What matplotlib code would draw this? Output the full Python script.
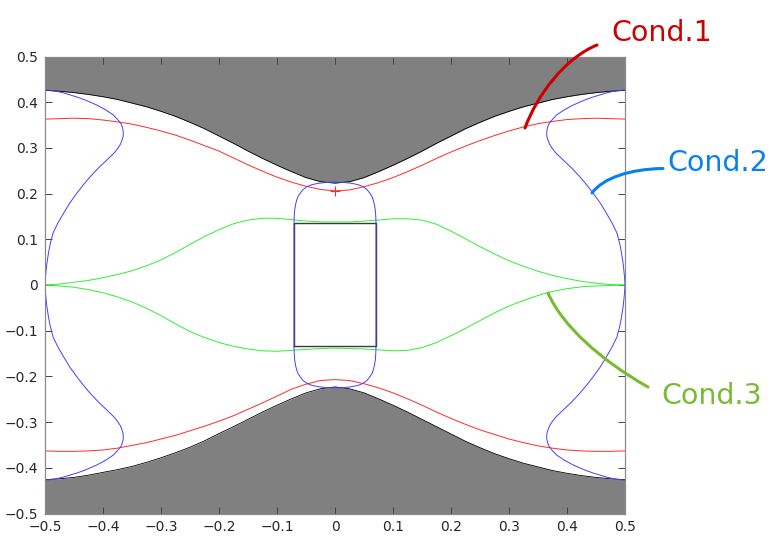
import numpy as np
import matplotlib
matplotlib.use("Agg")
import matplotlib.pyplot as plt
from matplotlib.path import Path
from matplotlib.patches import PathPatch

# ---------------- data ----------------
curve_x = [-0.5, -0.475, -0.45, -0.425, -0.4, -0.375, -0.35, -0.325, -0.3, -0.275, -0.25, -0.225,
           -0.2, -0.175, -0.15, -0.125, -0.1, -0.075, -0.05, -0.025, 0.0,
           0.025, 0.05, 0.075, 0.1, 0.125, 0.15, 0.175, 0.2, 0.225, 0.25, 0.275,
           0.3, 0.325, 0.35, 0.375, 0.4, 0.425, 0.45, 0.475, 0.5]

# boundary of the grey region
gray_upper = [0.426, 0.424, 0.421, 0.417, 0.412, 0.406, 0.398, 0.390, 0.380, 0.369, 0.356, 0.342,
              0.326, 0.310, 0.293, 0.277, 0.262, 0.248, 0.235, 0.226, 0.223,
              0.226, 0.235, 0.248, 0.262, 0.277, 0.293, 0.310, 0.326, 0.342, 0.356, 0.369,
              0.380, 0.390, 0.398, 0.406, 0.412, 0.417, 0.421, 0.424, 0.426]
gray_lower = [-0.426, -0.424, -0.421, -0.416, -0.410, -0.404, -0.397, -0.388, -0.378, -0.367, -0.355, -0.341,
              -0.325, -0.310, -0.294, -0.278, -0.263, -0.249, -0.236, -0.227, -0.223,
              -0.227, -0.236, -0.249, -0.263, -0.278, -0.294, -0.310, -0.326, -0.342, -0.356, -0.369,
              -0.380, -0.390, -0.398, -0.406, -0.412, -0.417, -0.421, -0.424, -0.426]

# Cond. 1 (red)
red_upper = [0.363, 0.364, 0.365, 0.364, 0.361, 0.357, 0.352, 0.345, 0.337, 0.328, 0.317, 0.305,
             0.293, 0.278, 0.263, 0.249, 0.236, 0.225, 0.216, 0.209, 0.206,
             0.208, 0.215, 0.224, 0.235, 0.248, 0.262, 0.277, 0.291, 0.304, 0.316, 0.327,
             0.337, 0.346, 0.353, 0.358, 0.362, 0.364, 0.365, 0.364, 0.363]
red_lower = [-0.363, -0.364, -0.364, -0.363, -0.361, -0.357, -0.351, -0.345, -0.337, -0.329, -0.319, -0.309,
             -0.298, -0.286, -0.272, -0.258, -0.243, -0.228, -0.217, -0.209, -0.207,
             -0.209, -0.216, -0.225, -0.236, -0.249, -0.263, -0.278, -0.292, -0.305, -0.317, -0.327,
             -0.337, -0.345, -0.352, -0.357, -0.361, -0.363, -0.364, -0.364, -0.363]

# Cond. 3 (green)
green_upper = [0.000, 0.002, 0.006, 0.010, 0.016, 0.023, 0.031, 0.042, 0.055, 0.071, 0.089, 0.106,
               0.121, 0.134, 0.142, 0.146, 0.146, 0.143, 0.140, 0.138, 0.138,
               0.138, 0.140, 0.142, 0.145, 0.145, 0.142, 0.133, 0.118, 0.101, 0.084, 0.068,
               0.053, 0.041, 0.030, 0.021, 0.014, 0.008, 0.004, 0.001, 0.000]
green_lower = [0.000, -0.002, -0.005, -0.010, -0.017, -0.026, -0.037, -0.051, -0.067, -0.085, -0.102, -0.115,
               -0.126, -0.134, -0.140, -0.144, -0.145, -0.143, -0.141, -0.139, -0.138,
               -0.139, -0.140, -0.142, -0.144, -0.143, -0.137, -0.126, -0.111, -0.095, -0.078, -0.061,
               -0.046, -0.034, -0.023, -0.014, -0.008, -0.004, -0.002, -0.001, 0.000]

# Cond. 2 (blue), outer branch: x position (right side) against y (upper half)
blue_outer_y = [0.427, 0.425, 0.421, 0.416, 0.411, 0.405, 0.394, 0.383, 0.372, 0.361, 0.353, 0.345,
                0.338, 0.331, 0.324, 0.316, 0.308, 0.300, 0.290, 0.274, 0.256, 0.237, 0.219, 0.201,
                0.180, 0.157, 0.135, 0.114, 0.090, 0.070, 0.045, 0.020, 0.0]
blue_outer_x = [0.500, 0.485, 0.470, 0.457, 0.444, 0.431, 0.411, 0.395, 0.382, 0.374, 0.369, 0.3665,
                0.3653, 0.365, 0.3655, 0.3675, 0.370, 0.374, 0.380, 0.393, 0.408, 0.422, 0.434, 0.445,
                0.457, 0.468, 0.478, 0.486, 0.491, 0.494, 0.497, 0.499, 0.500]

# Cond. 2 (blue), inner rounded box: one quarter (x >= 0, y >= 0)
blue_inner_x = [0.0, 0.010, 0.020, 0.030, 0.040, 0.048, 0.055, 0.060, 0.064, 0.066, 0.068, 0.0695, 0.0703, 0.0707, 0.0707]
blue_inner_y = [0.225, 0.2247, 0.2238, 0.2222, 0.2195, 0.2155, 0.209, 0.201, 0.193, 0.186, 0.176, 0.164, 0.150, 0.135, 0.0]

# central rectangle
rect_x = [-0.0707, 0.0707]
rect_y = [-0.134, 0.135]

# marker on Cond. 1 curve
marker_x = [0.0]
marker_y = [0.206]

ticks = [-0.5, -0.4, -0.3, -0.2, -0.1, 0.0, 0.1, 0.2, 0.3, 0.4, 0.5]
tick_labels = ['\u22120.5', '\u22120.4', '\u22120.3', '\u22120.2', '\u22120.1', '0',
               '0.1', '0.2', '0.3', '0.4', '0.5']

annot_texts = ['Cond.1', 'Cond.2', 'Cond.3']

# ---------------- drawing ----------------
W, H = 772, 537
fig = plt.figure(figsize=(W / 100, H / 100), dpi=100)
ax = fig.add_axes([45 / W, 1 - 513.5 / H, 580 / W, 457 / H])

cx = np.array(curve_x)
ax.fill_between(cx, gray_upper, 0.5, color='#808080', lw=0)
ax.fill_between(cx, -0.5, gray_lower, color='#808080', lw=0)
ax.plot(cx, gray_upper, color='black', lw=0.6)
ax.plot(cx, gray_lower, color='black', lw=0.6)

# rectangle
ax.plot([rect_x[0], rect_x[1], rect_x[1], rect_x[0], rect_x[0]],
        [rect_y[0], rect_y[0], rect_y[1], rect_y[1], rect_y[0]],
        color='#3a3a3a', lw=1.0)

# red
ax.plot(cx, red_upper, color='#ff2a2a', lw=0.7)
ax.plot(cx, red_lower, color='#ff2a2a', lw=0.7)
ax.plot(marker_x, marker_y, '+', color='#ff2a2a', ms=7, mew=0.8)

# green
ax.plot(cx, green_upper, color='#33ee33', lw=0.7)
ax.plot(cx, green_lower, color='#33ee33', lw=0.7)

# blue outer
bx = np.array(blue_outer_x)
by = np.array(blue_outer_y)
ox = np.concatenate([bx, bx[::-1]])
oy = np.concatenate([by, -by[::-1]])
ax.plot(ox, oy, color='#4040ff', lw=0.7)
ax.plot(-ox, oy, color='#4040ff', lw=0.7)

# blue inner
sx = np.array(blue_inner_x)
sy = np.array(blue_inner_y)
ix = np.concatenate([sx, sx[::-1], -sx, -sx[::-1]])
iy = np.concatenate([sy, -sy[::-1], -sy, sy[::-1]])
ax.plot(ix, iy, color='#4040ff', lw=0.7)

ax.set_xlim(-0.5, 0.5)
ax.set_ylim(-0.5, 0.5)
ax.set_xticks(ticks)
ax.set_yticks(ticks)
ax.set_xticklabels(tick_labels)
ax.set_yticklabels(tick_labels)
ax.tick_params(direction='in', length=5, width=0.7, color='#444444',
               labelsize=10, labelcolor='#262626', top=True, right=True, pad=5)
for s in ax.spines.values():
    s.set_color('#8a8a8a')
    s.set_linewidth(0.9)

# ---------------- handwritten-style annotations ----------------
def fpt(p):
    return (p[0] / W, 1 - p[1] / H)

strokes = [
    ('#cc0000', [(597, 45), (565, 58), (537, 95), (525, 128)]),
    ('#0a7ff0', [(663, 168.5), (630, 169), (603, 178), (592, 193)]),
    ('#77bb33', [(548, 293), (562, 325), (600, 360), (648, 387)]),
]
for col, pts in strokes:
    path = Path([fpt(p) for p in pts], [Path.MOVETO, Path.CURVE4, Path.CURVE4, Path.CURVE4])
    fig.add_artist(PathPatch(path, fill=False, edgecolor=col, lw=2.2, capstyle='round',
                             transform=fig.transFigure))

text_pos = [(662, 41), (718, 171), (712, 404)]
text_col = ['#cc0000', '#0a7ff0', '#77bb33']
for t, (tx, ty), c in zip(annot_texts, text_pos, text_col):
    fig.text(tx / W, 1 - ty / H, t, color=c, fontsize=20.5, ha='center', va='baseline')

fig.savefig('out.png', dpi=100)
